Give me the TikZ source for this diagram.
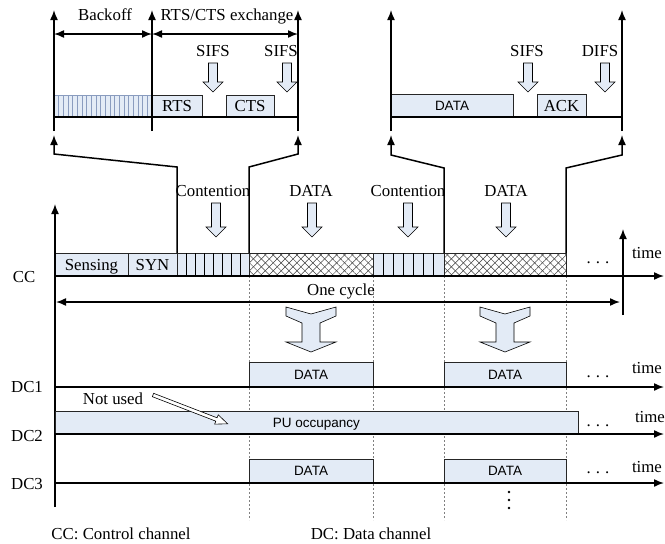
\documentclass[tikz,border=0pt]{standalone}
\usepackage{fontspec}
\setmainfont{Liberation Serif}
\setsansfont{Liberation Sans}
\usetikzlibrary{arrows.meta, patterns.meta, positioning}
\definecolor{SlotBlue}{HTML}{E3EBF6}
\definecolor{HatchBlue}{HTML}{8A9CBF}
\newcommand{\spreaddots}{.\hspace{5pt}.\hspace{5pt}.}

\tikzset{
  pics/dnarrow/.style={code={
    \draw[fill=SlotBlue, line width=0.6pt] (-4.5,0) -- (4.5,0) -- (4.5,#1-10) -- (10,#1-10) -- (0,#1) -- (-10,#1-10) -- (-4.5,#1-10) -- cycle;
  }},
  pics/funnel/.style={code={
    \draw[fill=SlotBlue, line width=0.6pt] (-25,0) -- (0,7) -- (25,0) -- (25,9) -- (9,16) -- (9,35) -- (25,35) -- (0,45) -- (-25,35) -- (-9,35) -- (-9,16) -- (-25,9) -- cycle;
  }}
}

\begin{document}
\begin{tikzpicture}[x=1pt, y=-1pt,
  lbl/.style={font=\fontsize{16.8}{18}\selectfont, inner sep=0pt},
  sanslbl/.style={font=\sffamily\fontsize{13.5}{15}\selectfont, inner sep=0pt},
  slot/.style={lbl, draw=black!85, fill=SlotBlue, line width=0.8pt, outer sep=0pt, anchor=south west, text depth=0pt},
  dataslot/.style={slot, sanslbl},
  mesh/.style={draw=black!85, line width=0.8pt, inner sep=0pt, outer sep=0pt, anchor=south west,
    preaction={fill=white},
    preaction={pattern={Lines[angle=45,distance=5.6pt,line width=0.5pt]}, pattern color=black!75},
    preaction={pattern={Lines[angle=-45,distance=5.6pt,line width=0.5pt]}, pattern color=black!75}},
  axis/.style={line width=1.5pt, -{Latex[length=10pt,width=8pt]}},
  span/.style={line width=1.5pt, {Latex[length=10pt,width=8pt]}-{Latex[length=10pt,width=8pt]}},
  zoomline/.style={line width=1.5pt, -{Latex[length=10pt,width=8pt]}},
  guide/.style={gray, line width=0.4pt, dash pattern=on 2pt off 2pt}]

  \useasboundingbox (0,0) rectangle (665,544);

  % RTS/CTS detail
  \node[slot, draw=HatchBlue, minimum width=98pt, minimum height=22pt] (backoffbar) at (54,117) {};
  \foreach \i in {1,...,20}
    \draw[HatchBlue, line width=0.5pt] ([xshift=\i*4.67pt]backoffbar.south west) -- ([xshift=\i*4.67pt]backoffbar.north west);
  \node[slot, minimum width=50pt, minimum height=22pt] (rts) at (152,117) {RTS};
  \node[slot, minimum width=48pt, minimum height=22pt] (cts) at (226,117) {CTS};
  \draw[line width=1.5pt] (54,117) -- (298,117);
  \draw[axis] (54,131) -- (54,10);
  \draw[axis] (152,131) -- (152,10);
  \draw[axis] (298,131) -- (298,10);
  \draw[span] (54,34) -- (152,34);
  \draw[span] (152,34) -- (298,34);
  \node[lbl, anchor=base] (backoff) at (105,20) {Backoff};
  \node[lbl, anchor=base] (rtscts) at (227,20) {RTS/CTS exchange};
  \node[lbl, anchor=base] (sifsa) at (213,56) {SIFS};
  \node[lbl, anchor=base] (sifsb) at (281,56) {SIFS};
  \pic at (213,63) {dnarrow=29};
  \pic at (287,63) {dnarrow=29};

  % DATA/ACK detail
  \node[dataslot, minimum width=122pt, minimum height=23pt] (data0) at (391,117) {DATA};
  \node[slot, minimum width=49pt, minimum height=23pt] (ack) at (537,117) {ACK};
  \draw[line width=1.5pt] (391,117) -- (622,117);
  \draw[axis] (391,131) -- (391,10);
  \draw[axis] (622,131) -- (622,10);
  \node[lbl, anchor=base] (sifsc) at (527,56) {SIFS};
  \node[lbl, anchor=base] (difs) at (600,56) {DIFS};
  \pic at (528,63) {dnarrow=29};
  \pic at (605,63) {dnarrow=29};

  % guides
  \foreach \gx in {249,373,444,566}
    \draw[guide] (\gx,276) -- (\gx,520);

  % control channel
  \node[slot, minimum width=73pt, minimum height=23pt] (sensing) at (55,276) {Sensing};
  \node[slot, minimum width=49pt, minimum height=23pt] (syn) at (sensing.south east) {SYN};
  \node[slot, minimum width=72pt, minimum height=23pt] (cont1) at (syn.south east) {};
  \node[mesh, minimum width=124pt, minimum height=23pt] (mesh1) at (cont1.south east) {};
  \node[slot, minimum width=71pt, minimum height=23pt] (cont2) at (mesh1.south east) {};
  \node[mesh, minimum width=122pt, minimum height=23pt] (mesh2) at (cont2.south east) {};
  \foreach \i in {1,...,7}
    \draw[line width=0.8pt] ([xshift=\i*9pt]cont1.south west) -- ([xshift=\i*9pt]cont1.north west);
  \foreach \i in {1,...,6}
    \draw[line width=0.8pt] ([xshift=\i*10.14pt]cont2.south west) -- ([xshift=\i*10.14pt]cont2.north west);

  \draw[zoomline] (cont1.north west) -- (177,167) -- (54,154) -- (54,135);
  \draw[zoomline] (mesh1.north west) -- (249,167) -- (298,154) -- (298,135);
  \draw[zoomline] (mesh2.north west) -- (444,168) -- (391,155) -- (391,135);
  \draw[zoomline] (mesh2.north east) -- (566,168) -- (622,155) -- (622,135);

  \node[lbl, anchor=base] (conta) at (213,196) {Contention};
  \node[lbl, anchor=base] (dataa) at (311,196) {DATA};
  \node[lbl, anchor=base] (contb) at (408,196) {Contention};
  \node[lbl, anchor=base] (datab) at (506,196) {DATA};
  \pic at (216,203) {dnarrow=34};
  \pic at (312,203) {dnarrow=34};
  \pic at (408,203) {dnarrow=34};
  \pic at (506,203) {dnarrow=34};

  \draw[axis] (55,507) -- (55,204);
  \draw[axis] (55,276) -- (664,276);
  \draw[axis] (623,315) -- (623,229);
  \node[lbl, anchor=base] (cc) at (24,282) {CC};
  \node[lbl, anchor=base] (timecc) at (647,258) {time};
  \node[lbl] (dotscc) at (598,263) {\spreaddots};

  \draw[span] (56,302) -- (620,302);
  \node[lbl, anchor=base] (cycle) at (341,295) {One cycle};

  \pic at (311,307) {funnel};
  \pic at (505,307) {funnel};

  % data channels
  \node[dataslot, minimum width=124pt, minimum height=25pt] (dc1a) at (249,387) {DATA};
  \node[dataslot, minimum width=122pt, minimum height=25pt] (dc1b) at (444,387) {DATA};
  \draw[axis] (55,387) -- (664,387);
  \node[lbl, anchor=base] (dc1) at (27,392) {DC1};
  \node[lbl, anchor=base] (timea) at (647,373) {time};
  \node[lbl] (dotsa) at (598,377) {\spreaddots};

  \node[dataslot, minimum width=523pt, minimum height=23pt] (pu) at (55,434) {PU occupancy};
  \draw[axis] (55,434) -- (664,434);
  \node[lbl, anchor=base] (dc2) at (27,441) {DC2};
  \node[lbl, anchor=base] (timeb) at (650,422) {time};
  \node[lbl] (dotsb) at (598,426) {\spreaddots};
  \node[lbl, anchor=base] (notused) at (113,404) {Not used};
  \begin{scope}[shift={(153,395)}, rotate=-21.1]
    \draw[fill=white, line width=0.6pt] (0,-1.8) -- (68,-1.8) -- (68,-5) -- (80,0) -- (68,5) -- (68,1.8) -- (0,1.8) -- cycle;
  \end{scope}

  \node[dataslot, minimum width=124pt, minimum height=24pt] (dc3a) at (249,483) {DATA};
  \node[dataslot, minimum width=122pt, minimum height=24pt] (dc3b) at (444,483) {DATA};
  \draw[axis] (55,483) -- (664,483);
  \node[lbl, anchor=base] (dc3) at (27,489) {DC3};
  \node[lbl, anchor=base] (timec) at (647,472) {time};
  \node[lbl] (dotsc) at (598,473) {\spreaddots};
  \foreach \dy in {492,500,508}
    \fill (509,\dy) circle (1.3pt);

  \node[lbl, anchor=base] (ccnote) at (121,539) {CC: Control channel};
  \node[lbl, anchor=base] (dcnote) at (371,539) {DC: Data channel};

\end{tikzpicture}
\end{document}
